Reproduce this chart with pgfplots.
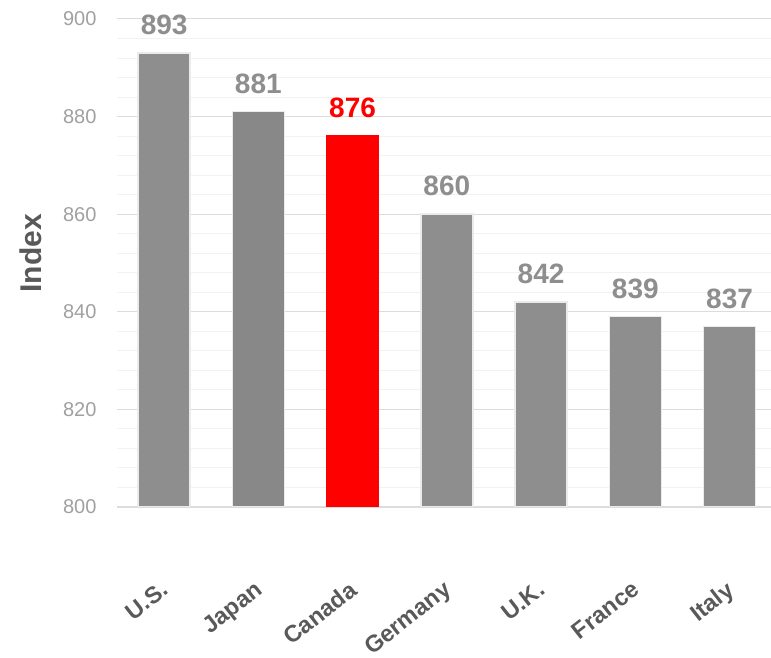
\documentclass[border=0pt]{standalone}
\usepackage{pgfplots}
\pgfplotsset{compat=1.18}
\usepackage{fontspec}
\setmainfont{Liberation Sans}
\definecolor{bargray}{HTML}{8E8E8E}
\definecolor{bargrayd}{HTML}{888888}
\definecolor{barborder}{HTML}{EBEBEB}
\definecolor{gridmajor}{HTML}{DCDCDC}
\definecolor{gridminor}{HTML}{F2F2F2}
\definecolor{ticklab}{HTML}{A0A0A0}
\definecolor{labgray}{HTML}{8E8E8E}
\definecolor{xlab}{HTML}{595959}
\definecolor{canred}{HTML}{FF0000}
\begin{document}
\begin{tikzpicture}
\begin{axis}[
  scale only axis, width=654pt, height=488pt,
  xmin=-0.5, xmax=6.44, ymin=800, ymax=900,
  ytick={800,820,...,900}, minor y tick num=4,
  ymajorgrids, yminorgrids,
  major grid style={draw=gridmajor, line width=1pt},
  minor grid style={draw=gridminor, line width=1pt},
  axis x line*=bottom, axis y line*=left,
  x axis line style={draw=gridmajor, line width=2pt, -},
  y axis line style={draw=none},
  major tick length=0pt, minor tick length=0pt,
  xtick={0,...,6},
  xticklabels={U.S.,Japan,Canada,Germany,U.K.,France,Italy},
  xticklabel style={xshift=-4pt, yshift=-68pt, rotate=38, anchor=north east, font=\bfseries\fontsize{23.5}{23.5}\selectfont, text=xlab},
  yticklabel style={font=\fontsize{20}{20}\selectfont, text=ticklab, xshift=-17pt},
  /pgf/number format/assume math mode=true,
  ylabel={Index},
  ylabel style={at={(axis description cs:0,0.52)}, anchor=center, yshift=86pt, font=\bfseries\fontsize{30}{30}\selectfont, text=xlab},
  clip mode=individual,
  nodes near coords,
  every node near coord/.append style={font=\bfseries\fontsize{28}{28}\selectfont, anchor=south, yshift=14pt},
]
\addplot[ybar, bar width=52pt, fill=bargray, draw=barborder, line width=1.5pt,
  every node near coord/.append style={text=labgray}]
  coordinates {(0,893) (3,860) (4,842) (5,839) (6,837)};
\addplot[ybar, bar width=52pt, fill=bargrayd, draw=barborder, line width=1.5pt,
  every node near coord/.append style={text=labgray}]
  coordinates {(1,881)};
\addplot[ybar, bar width=52pt, fill=canred, draw=canred, line width=1.5pt,
  every node near coord/.append style={text=canred}]
  coordinates {(2,876)};
\end{axis}
\pgfresetboundingbox
\path (current axis.south west) ++(-117pt,-151pt) coordinate (bl);
\path (current axis.north east) ++(0pt,19pt) coordinate (tr);
\path (bl) rectangle (tr);
\end{tikzpicture}
\end{document}
